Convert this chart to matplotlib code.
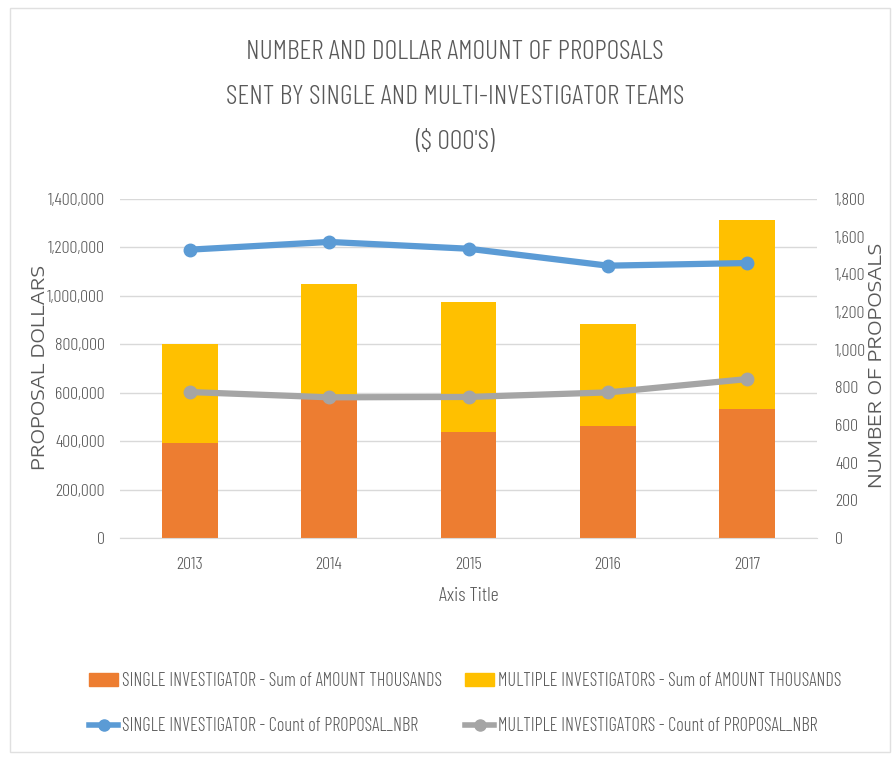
import matplotlib
matplotlib.use("Agg")
import matplotlib.pyplot as plt
from matplotlib.lines import Line2D
from matplotlib.patches import Patch, Rectangle
from matplotlib.ticker import FuncFormatter, MultipleLocator
import numpy as np

years = ["2013", "2014", "2015", "2016", "2017"]
single_amount = [392000, 578000, 436000, 464000, 534000]
multi_amount = [410000, 472000, 539000, 421000, 780000]
single_count = [1531, 1572, 1536, 1446, 1460]
multi_count = [775, 747, 749, 773, 844]

NARROW = ["Barlow Condensed", "DejaVu Sans"]
WIDE = ["Encode Sans Extra Expanded", "Encode Sans Expanded", "DejaVu Sans"]
TXT = "#595959"
ORANGE = "#ED7D31"
GOLD = "#FFC000"
BLUE = "#5B9BD5"
GRAY = "#A5A5A5"
GRID = "#D9D9D9"

fig = plt.figure(figsize=(8.92, 7.57), dpi=100)
fig.patches.append(Rectangle((10/892, 5/757), 880/892, 744/757, transform=fig.transFigure,
                             fill=False, edgecolor="#E0E0E0", linewidth=1.0))

ax = fig.add_axes([120/892, 1-538/757, 697/892, 339/757])
x = np.arange(len(years))
ax.bar(x, single_amount, width=0.4, color=ORANGE, zorder=2)
ax.bar(x, multi_amount, width=0.4, bottom=single_amount, color=GOLD, zorder=2)
ax.set_xlim(-0.5, len(years) - 0.5)
ax.set_ylim(0, 1400000)
ax.yaxis.set_major_locator(MultipleLocator(200000))
ax.yaxis.set_major_formatter(FuncFormatter(lambda v, p: f"{int(v):,}"))
ax.grid(axis="y", color=GRID, linewidth=1.0, zorder=0)
ax.set_axisbelow(True)
for s in ax.spines.values():
    s.set_visible(False)
ax.spines["bottom"].set_visible(True)
ax.spines["bottom"].set_color(GRID)
ax.tick_params(axis="both", length=0, colors=TXT, labelsize=13)
ax.tick_params(axis="y", pad=11)
ax.tick_params(axis="x", pad=14)
ax.set_xticks(x)
ax.set_xticklabels(years)
for lbl in ax.get_xticklabels() + ax.get_yticklabels():
    lbl.set_family(NARROW)
    lbl.set_fontweight(300)
ax.set_xlabel("Axis Title", family=NARROW, fontweight=300, fontsize=14.5, color=TXT, labelpad=10)

ax2 = ax.twinx()
ax2.plot(x, single_count, color=BLUE, linewidth=4.5, marker="o", markersize=9, zorder=3)
ax2.plot(x, multi_count, color=GRAY, linewidth=4.5, marker="o", markersize=9, zorder=3)
ax2.set_ylim(0, 1800)
ax2.yaxis.set_major_locator(MultipleLocator(200))
ax2.yaxis.set_major_formatter(FuncFormatter(lambda v, p: f"{int(v):,}"))
for s in ax2.spines.values():
    s.set_visible(False)
ax2.tick_params(axis="y", length=0, colors=TXT, labelsize=13, pad=13)
for lbl in ax2.get_yticklabels():
    lbl.set_family(NARROW)
    lbl.set_fontweight(300)

fig.text(40/892, 1-368/757, "PROPOSAL DOLLARS", rotation=90, ha="center", va="center",
         family=WIDE, fontsize=13.5, color=TXT)
fig.text(877/892, 1-365/757, "NUMBER OF PROPOSALS", rotation=90, ha="center", va="center",
         family=WIDE, fontsize=13.5, color=TXT)

titles = ["NUMBER AND DOLLAR AMOUNT OF PROPOSALS",
          "SENT BY SINGLE AND MULTI-INVESTIGATOR TEAMS",
          "($ 000'S)"]
for i, t in enumerate(titles):
    fig.text(455/892, 1 - (52 + 45*i)/757, t, ha="center", va="center",
             family=NARROW, fontweight=300, fontsize=20, color=TXT)

handles = [Patch(color=ORANGE), Patch(color=GOLD),
           Line2D([], [], color=BLUE, lw=4, marker="o", ms=8),
           Line2D([], [], color=GRAY, lw=4, marker="o", ms=8)]
labels = ["SINGLE INVESTIGATOR - Sum of AMOUNT THOUSANDS",
          "MULTIPLE INVESTIGATORS - Sum of AMOUNT THOUSANDS",
          "SINGLE INVESTIGATOR - Count of PROPOSAL_NBR",
          "MULTIPLE INVESTIGATORS - Count of PROPOSAL_NBR"]
anchors = [(89, 681), (465, 681), (89, 726), (465, 726)]
for h, l, (ax_, ay_) in zip(handles, labels, anchors):
    leg = fig.legend([h], [l], loc="center left", bbox_to_anchor=(ax_/892, 1-ay_/757),
                     frameon=False, prop={"family": NARROW, "size": 13.2, "weight": 300},
                     handlelength=1.6, handletextpad=0.2, borderpad=0, borderaxespad=0)
    for t in leg.get_texts():
        t.set_color(TXT)

fig.savefig("out.png", dpi=100)
